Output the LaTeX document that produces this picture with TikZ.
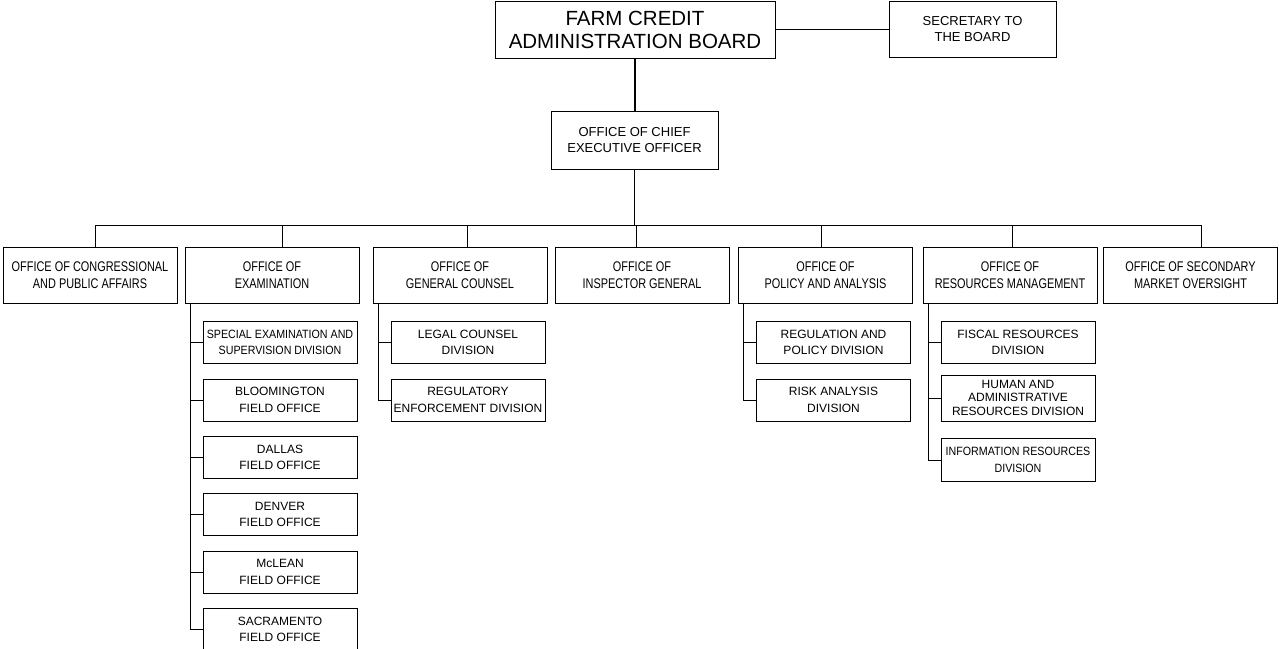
\documentclass[tikz,border=0pt]{standalone}
\usepackage{fontspec}
\setmainfont{Liberation Sans}
\newfontfamily\condensed[FakeStretch=0.78]{Liberation Sans}
\newfontfamily\squeezed[FakeStretch=0.89]{Liberation Sans}
\usetikzlibrary{
  positioning,  % Function "of" (e.g. [below=of x])
  calc,
}
\newcommand{\boardfont}{\fontsize{20.5}{23}\selectfont}
\newcommand{\topfont}  {\fontsize{13}{16.5}\selectfont}
\newcommand{\rowfont}  {\condensed\fontsize{14}{16.5}\selectfont}
\newcommand{\divfont}  {\fontsize{12}{16.5}\selectfont}
\def\mydrop{13pt}
\tikzset{
  line width=1.4pt,
  my box/.style={
    draw,
    rectangle,
    inner sep=0mm,
    align=center
  },
  top unit/.style={
    my box,
    font=\topfont,
    minimum width=167pt,
    minimum height=57pt
  },
  office/.style={
    my box,
    font=\rowfont,
    minimum width=174pt,
    minimum height=56pt
  },
  division/.style={
    my box,
    font=\divfont,
    minimum width=154pt,
    minimum height=42pt
  },
  first division/.style={
    division,
    below right=18pt and 18pt of #1.south west
  },
  tight/.style={
    font=\squeezed\fontsize{12}{16.5}\selectfont
  }
}
\begin{document}
\begin{tikzpicture}[x=1pt,y=1pt]
\useasboundingbox (0,0) rectangle (1279,-648);
% top of the chart
\node[top unit,font=\boardfont,minimum width=280pt] (board) at (635,-29.5) {FARM CREDIT\\ADMINISTRATION BOARD};
\node[top unit,minimum height=56pt] (secretary) at (972.5,-29) {SECRETARY TO\\THE BOARD};
\node[top unit,minimum height=58pt] (ceo) at (634.5,-140) {OFFICE OF CHIEF\\EXECUTIVE OFFICER};
\coordinate (bus) at (0,-225);
% offices
\node[office] (cpa)  at (90,-275)     {OFFICE OF CONGRESSIONAL\\AND PUBLIC AFFAIRS};
\node[office] (exam) at (272,-275)    {OFFICE OF\\EXAMINATION};
\node[office] (ogc)  at (460,-275)    {OFFICE OF\\GENERAL COUNSEL};
\node[office] (oig)  at (642,-275)    {OFFICE OF\\INSPECTOR GENERAL};
\node[office] (opa)  at (825.5,-275)  {OFFICE OF\\POLICY AND ANALYSIS};
\node[office] (orm)  at (1010,-275)   {OFFICE OF\\RESOURCES MANAGEMENT};
\node[office] (osmo) at (1190.5,-275) {OFFICE OF SECONDARY\\MARKET OVERSIGHT};
% divisions and field offices
\node[first division=exam,tight]    (sesd)   {SPECIAL EXAMINATION AND\\SUPERVISION DIVISION};
\node[division] (bloom)  [below=15pt of sesd]   {BLOOMINGTON\\FIELD OFFICE};
\node[division] (dallas) [below=15pt of bloom]  {DALLAS\\FIELD OFFICE};
\node[division] (denver) [below=15pt of dallas] {DENVER\\FIELD OFFICE};
\node[division] (mclean) [below=15pt of denver] {McLEAN\\FIELD OFFICE};
\node[division] (sacto)  [below=15pt of mclean] {SACRAMENTO\\FIELD OFFICE};
\node[first division=ogc]  (lcd) {LEGAL COUNSEL\\DIVISION};
\node[division] (red) [below=15pt of lcd] {REGULATORY\\ENFORCEMENT DIVISION};
\node[first division=opa]  (rpd) {REGULATION AND\\POLICY DIVISION};
\node[division] (rad) [below=15pt of rpd] {RISK ANALYSIS\\DIVISION};
\node[first division=orm]  (frd) {FISCAL RESOURCES\\DIVISION};
\node[division,font=\fontsize{12}{13.5}\selectfont,minimum height=46pt] (hard) [below=11pt of frd]
  {HUMAN AND\\ADMINISTRATIVE\\RESOURCES DIVISION};
\node[division,tight,minimum height=43pt] (ird) [below=17pt of hard] {INFORMATION RESOURCES\\DIVISION};
% connectors
\draw[line width=2.5pt] (board.south) -- (board.south |- ceo.north);
\draw (board.east) -- (board.east -| secretary.west);
\draw (ceo.south) -- (ceo.south |- bus);
\draw ([xshift=5pt]cpa.north |- bus) -- ([xshift=10.5pt]osmo.north |- bus);
\foreach \o/\dx in {cpa/5,exam/10,ogc/7,oig/-6,opa/-4.5,orm/2,osmo/10.5}
  \draw ([xshift=\dx pt]\o.north) -- ([xshift=\dx pt]\o.north |- bus);
\foreach \o/\first/\last in {exam/sesd/sacto,ogc/lcd/red,opa/rpd/rad,orm/frd/ird}
  \draw ([xshift=-\mydrop]\first.west |- \o.south) |- (\last.west);
\foreach \d in {sesd,bloom,dallas,denver,mclean,lcd,rpd,frd,hard}
  \draw (\d.west) -- ++(-\mydrop,0);
\end{tikzpicture}
\end{document}
